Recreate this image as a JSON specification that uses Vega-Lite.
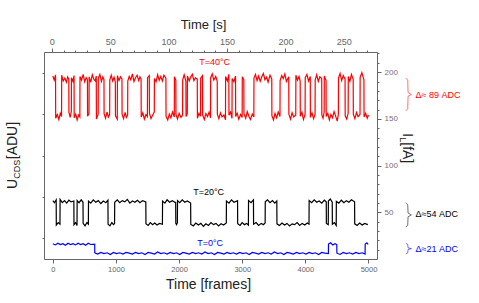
{
"$schema": "https://vega.github.io/schema/vega-lite/v6.json",
"width": 333, "height": 207,
"autosize": "none",
"padding": {"left": 44, "top": 52, "right": 102, "bottom": 44},
"background": "white",
"config": {"view": {"stroke": null}, "font": "Liberation Sans",
 "axis": {"grid": false, "domainColor": "#666", "tickColor": "#666", "labelColor": "#666", "labelFont": "Liberation Sans", "titleFont": "Liberation Sans", "titleFontWeight": "normal", "titleColor": "#222"}},
"datasets": {
"traces": [
{"T":"40","frame":0,"adu":442},{"T":"40","frame":22,"adu":432},{"T":"40","frame":43,"adu":445},
{"T":"40","frame":45,"adu":340},{"T":"40","frame":70,"adu":349},{"T":"40","frame":95,"adu":337},{"T":"40","frame":118,"adu":352},{"T":"40","frame":138,"adu":344},
{"T":"40","frame":140,"adu":444},{"T":"40","frame":165,"adu":430},{"T":"40","frame":190,"adu":437},{"T":"40","frame":215,"adu":427},{"T":"40","frame":235,"adu":440},{"T":"40","frame":253,"adu":434},
{"T":"40","frame":255,"adu":354},{"T":"40","frame":275,"adu":342},{"T":"40","frame":293,"adu":357},
{"T":"40","frame":295,"adu":438},{"T":"40","frame":318,"adu":429},{"T":"40","frame":336,"adu":443},
{"T":"40","frame":338,"adu":341},{"T":"40","frame":362,"adu":350},{"T":"40","frame":385,"adu":336},{"T":"40","frame":408,"adu":348},{"T":"40","frame":428,"adu":343},
{"T":"40","frame":430,"adu":441},{"T":"40","frame":455,"adu":432},{"T":"40","frame":480,"adu":446},{"T":"40","frame":505,"adu":428},{"T":"40","frame":528,"adu":438},{"T":"40","frame":548,"adu":433},
{"T":"40","frame":550,"adu":345},{"T":"40","frame":573,"adu":352},
{"T":"40","frame":575,"adu":440},{"T":"40","frame":600,"adu":427},{"T":"40","frame":625,"adu":445},{"T":"40","frame":650,"adu":434},{"T":"40","frame":670,"adu":430},{"T":"40","frame":688,"adu":442},
{"T":"40","frame":690,"adu":338},{"T":"40","frame":718,"adu":350},
{"T":"40","frame":720,"adu":437},{"T":"40","frame":745,"adu":446},{"T":"40","frame":770,"adu":429},{"T":"40","frame":792,"adu":440},{"T":"40","frame":810,"adu":433},
{"T":"40","frame":812,"adu":351},{"T":"40","frame":835,"adu":340},{"T":"40","frame":858,"adu":355},{"T":"40","frame":880,"adu":343},{"T":"40","frame":900,"adu":349},
{"T":"40","frame":902,"adu":432},{"T":"40","frame":925,"adu":444},{"T":"40","frame":948,"adu":430},{"T":"40","frame":970,"adu":439},{"T":"40","frame":990,"adu":428},
{"T":"40","frame":992,"adu":346},{"T":"40","frame":1021,"adu":338},
{"T":"40","frame":1023,"adu":443},{"T":"40","frame":1048,"adu":431},{"T":"40","frame":1072,"adu":440},{"T":"40","frame":1095,"adu":435},
{"T":"40","frame":1097,"adu":350},{"T":"40","frame":1120,"adu":339},{"T":"40","frame":1145,"adu":354},{"T":"40","frame":1165,"adu":342},{"T":"40","frame":1185,"adu":348},
{"T":"40","frame":1187,"adu":430},{"T":"40","frame":1210,"adu":441},{"T":"40","frame":1235,"adu":433},{"T":"40","frame":1260,"adu":447},{"T":"40","frame":1285,"adu":429},{"T":"40","frame":1310,"adu":438},{"T":"40","frame":1335,"adu":444},{"T":"40","frame":1360,"adu":431},{"T":"40","frame":1380,"adu":440},{"T":"40","frame":1398,"adu":434},
{"T":"40","frame":1400,"adu":343},{"T":"40","frame":1425,"adu":353},{"T":"40","frame":1450,"adu":338},{"T":"40","frame":1475,"adu":349},{"T":"40","frame":1498,"adu":344},
{"T":"40","frame":1500,"adu":438},{"T":"40","frame":1528,"adu":443},
{"T":"40","frame":1530,"adu":352},{"T":"40","frame":1555,"adu":339},{"T":"40","frame":1580,"adu":347},{"T":"40","frame":1607,"adu":355},
{"T":"40","frame":1609,"adu":436},{"T":"40","frame":1635,"adu":428},{"T":"40","frame":1660,"adu":445},{"T":"40","frame":1685,"adu":432},{"T":"40","frame":1710,"adu":441},{"T":"40","frame":1735,"adu":430},{"T":"40","frame":1760,"adu":444},{"T":"40","frame":1791,"adu":437},
{"T":"40","frame":1793,"adu":345},{"T":"40","frame":1820,"adu":336},{"T":"40","frame":1845,"adu":350},{"T":"40","frame":1870,"adu":341},{"T":"40","frame":1895,"adu":355},{"T":"40","frame":1924,"adu":343},
{"T":"40","frame":1926,"adu":440},{"T":"40","frame":1948,"adu":432},
{"T":"40","frame":1950,"adu":349},{"T":"40","frame":1975,"adu":338},{"T":"40","frame":2000,"adu":352},{"T":"40","frame":2030,"adu":342},{"T":"40","frame":2055,"adu":347},
{"T":"40","frame":2057,"adu":433},{"T":"40","frame":2080,"adu":445},{"T":"40","frame":2108,"adu":429},
{"T":"40","frame":2110,"adu":344},{"T":"40","frame":2130,"adu":351},
{"T":"40","frame":2132,"adu":442},{"T":"40","frame":2160,"adu":430},{"T":"40","frame":2185,"adu":440},{"T":"40","frame":2210,"adu":446},{"T":"40","frame":2235,"adu":431},{"T":"40","frame":2260,"adu":438},{"T":"40","frame":2288,"adu":434},
{"T":"40","frame":2290,"adu":340},{"T":"40","frame":2315,"adu":352},{"T":"40","frame":2340,"adu":345},
{"T":"40","frame":2342,"adu":437},{"T":"40","frame":2370,"adu":443},
{"T":"40","frame":2372,"adu":348},{"T":"40","frame":2400,"adu":337},{"T":"40","frame":2424,"adu":351},{"T":"40","frame":2450,"adu":344},{"T":"40","frame":2475,"adu":355},{"T":"40","frame":2498,"adu":341},
{"T":"40","frame":2500,"adu":438},{"T":"40","frame":2525,"adu":447},{"T":"40","frame":2550,"adu":432},{"T":"40","frame":2580,"adu":441},{"T":"40","frame":2604,"adu":430},
{"T":"40","frame":2606,"adu":350},{"T":"40","frame":2630,"adu":339},{"T":"40","frame":2655,"adu":353},{"T":"40","frame":2680,"adu":343},{"T":"40","frame":2710,"adu":348},{"T":"40","frame":2735,"adu":336},
{"T":"40","frame":2737,"adu":441},{"T":"40","frame":2765,"adu":430},{"T":"40","frame":2788,"adu":446},
{"T":"40","frame":2790,"adu":347},{"T":"40","frame":2815,"adu":355},{"T":"40","frame":2838,"adu":340},
{"T":"40","frame":2840,"adu":436},{"T":"40","frame":2868,"adu":428},{"T":"40","frame":2894,"adu":442},
{"T":"40","frame":2896,"adu":344},{"T":"40","frame":2920,"adu":352},{"T":"40","frame":2945,"adu":338},{"T":"40","frame":2975,"adu":349},{"T":"40","frame":2999,"adu":342},
{"T":"40","frame":3001,"adu":440},{"T":"40","frame":3025,"adu":433},
{"T":"40","frame":3027,"adu":351},{"T":"40","frame":3055,"adu":340},{"T":"40","frame":3080,"adu":356},{"T":"40","frame":3105,"adu":345},{"T":"40","frame":3130,"adu":337},{"T":"40","frame":3160,"adu":350},{"T":"40","frame":3184,"adu":343},
{"T":"40","frame":3186,"adu":437},{"T":"40","frame":3210,"adu":446},{"T":"40","frame":3235,"adu":431},{"T":"40","frame":3260,"adu":442},{"T":"40","frame":3285,"adu":429},{"T":"40","frame":3310,"adu":440},{"T":"40","frame":3335,"adu":448},{"T":"40","frame":3360,"adu":433},{"T":"40","frame":3385,"adu":439},{"T":"40","frame":3410,"adu":427},{"T":"40","frame":3440,"adu":444},{"T":"40","frame":3468,"adu":435},
{"T":"40","frame":3470,"adu":346},{"T":"40","frame":3495,"adu":336},{"T":"40","frame":3520,"adu":352},{"T":"40","frame":3545,"adu":341},{"T":"40","frame":3570,"adu":355},{"T":"40","frame":3598,"adu":344},
{"T":"40","frame":3600,"adu":431},{"T":"40","frame":3625,"adu":443},{"T":"40","frame":3650,"adu":436},{"T":"40","frame":3675,"adu":447},{"T":"40","frame":3700,"adu":429},{"T":"40","frame":3737,"adu":440},
{"T":"40","frame":3739,"adu":350},{"T":"40","frame":3765,"adu":338},{"T":"40","frame":3790,"adu":353},{"T":"40","frame":3815,"adu":343},{"T":"40","frame":3848,"adu":348},
{"T":"40","frame":3850,"adu":444},{"T":"40","frame":3875,"adu":432},{"T":"40","frame":3900,"adu":441},{"T":"40","frame":3918,"adu":430},
{"T":"40","frame":3920,"adu":345},{"T":"40","frame":3945,"adu":355},{"T":"40","frame":3970,"adu":337},{"T":"40","frame":3996,"adu":349},
{"T":"40","frame":3998,"adu":438},{"T":"40","frame":4025,"adu":446},{"T":"40","frame":4050,"adu":430},{"T":"40","frame":4078,"adu":441},
{"T":"40","frame":4080,"adu":342},{"T":"40","frame":4105,"adu":353},{"T":"40","frame":4130,"adu":339},{"T":"40","frame":4154,"adu":350},
{"T":"40","frame":4156,"adu":433},{"T":"40","frame":4180,"adu":445},{"T":"40","frame":4205,"adu":429},{"T":"40","frame":4230,"adu":440},{"T":"40","frame":4259,"adu":436},
{"T":"40","frame":4261,"adu":348},{"T":"40","frame":4280,"adu":340},{"T":"40","frame":4298,"adu":355},
{"T":"40","frame":4300,"adu":442},{"T":"40","frame":4328,"adu":431},
{"T":"40","frame":4330,"adu":344},{"T":"40","frame":4355,"adu":352},{"T":"40","frame":4380,"adu":336},{"T":"40","frame":4405,"adu":349},{"T":"40","frame":4430,"adu":341},{"T":"40","frame":4455,"adu":356},{"T":"40","frame":4480,"adu":345},{"T":"40","frame":4505,"adu":333},{"T":"40","frame":4523,"adu":350},
{"T":"40","frame":4525,"adu":437},{"T":"40","frame":4550,"adu":448},{"T":"40","frame":4575,"adu":431},{"T":"40","frame":4600,"adu":443},{"T":"40","frame":4629,"adu":435},
{"T":"40","frame":4631,"adu":346},{"T":"40","frame":4655,"adu":338},{"T":"40","frame":4678,"adu":352},
{"T":"40","frame":4680,"adu":441},{"T":"40","frame":4705,"adu":429},{"T":"40","frame":4730,"adu":446},{"T":"40","frame":4758,"adu":434},
{"T":"40","frame":4760,"adu":350},{"T":"40","frame":4785,"adu":339},{"T":"40","frame":4810,"adu":354},{"T":"40","frame":4835,"adu":344},{"T":"40","frame":4866,"adu":349},
{"T":"40","frame":4868,"adu":439},{"T":"40","frame":4895,"adu":450},{"T":"40","frame":4928,"adu":433},
{"T":"40","frame":4930,"adu":343},{"T":"40","frame":4955,"adu":352},{"T":"40","frame":4980,"adu":340},{"T":"40","frame":5000,"adu":348},

{"T":"20","frame":0,"adu":141},{"T":"20","frame":25,"adu":136},{"T":"20","frame":53,"adu":143},
{"T":"20","frame":55,"adu":82},{"T":"20","frame":85,"adu":88},{"T":"20","frame":113,"adu":84},
{"T":"20","frame":115,"adu":144},{"T":"20","frame":150,"adu":136},{"T":"20","frame":185,"adu":141},{"T":"20","frame":220,"adu":135},{"T":"20","frame":255,"adu":142},{"T":"20","frame":290,"adu":138},{"T":"20","frame":333,"adu":140},
{"T":"20","frame":335,"adu":83},{"T":"20","frame":360,"adu":88},{"T":"20","frame":383,"adu":81},
{"T":"20","frame":385,"adu":141},{"T":"20","frame":415,"adu":136},{"T":"20","frame":450,"adu":143},{"T":"20","frame":478,"adu":137},
{"T":"20","frame":480,"adu":86},{"T":"20","frame":510,"adu":80},{"T":"20","frame":540,"adu":88},{"T":"20","frame":563,"adu":84},
{"T":"20","frame":565,"adu":140},{"T":"20","frame":600,"adu":135},{"T":"20","frame":640,"adu":143},{"T":"20","frame":680,"adu":137},{"T":"20","frame":720,"adu":141},{"T":"20","frame":760,"adu":134},{"T":"20","frame":800,"adu":140},{"T":"20","frame":840,"adu":136},{"T":"20","frame":873,"adu":142},
{"T":"20","frame":875,"adu":84},{"T":"20","frame":905,"adu":80},{"T":"20","frame":935,"adu":88},{"T":"20","frame":960,"adu":83},{"T":"20","frame":978,"adu":86},
{"T":"20","frame":980,"adu":137},{"T":"20","frame":1020,"adu":143},{"T":"20","frame":1060,"adu":136},{"T":"20","frame":1100,"adu":141},{"T":"20","frame":1140,"adu":138},{"T":"20","frame":1180,"adu":144},{"T":"20","frame":1220,"adu":135},{"T":"20","frame":1260,"adu":140},{"T":"20","frame":1300,"adu":137},{"T":"20","frame":1340,"adu":142},{"T":"20","frame":1380,"adu":136},{"T":"20","frame":1420,"adu":141},{"T":"20","frame":1473,"adu":138},
{"T":"20","frame":1475,"adu":85},{"T":"20","frame":1510,"adu":81},{"T":"20","frame":1545,"adu":88},{"T":"20","frame":1580,"adu":83},{"T":"20","frame":1615,"adu":87},{"T":"20","frame":1650,"adu":82},{"T":"20","frame":1690,"adu":86},{"T":"20","frame":1736,"adu":84},
{"T":"20","frame":1738,"adu":140},{"T":"20","frame":1775,"adu":135},{"T":"20","frame":1810,"adu":143},{"T":"20","frame":1850,"adu":137},{"T":"20","frame":1890,"adu":141},{"T":"20","frame":1946,"adu":136},
{"T":"20","frame":1948,"adu":86},{"T":"20","frame":1960,"adu":83},{"T":"20","frame":1973,"adu":87},
{"T":"20","frame":1975,"adu":141},{"T":"20","frame":2010,"adu":136},{"T":"20","frame":2050,"adu":143},{"T":"20","frame":2090,"adu":137},{"T":"20","frame":2130,"adu":140},{"T":"20","frame":2183,"adu":135},
{"T":"20","frame":2185,"adu":84},{"T":"20","frame":2225,"adu":80},{"T":"20","frame":2265,"adu":87},{"T":"20","frame":2305,"adu":82},{"T":"20","frame":2345,"adu":86},{"T":"20","frame":2385,"adu":79},{"T":"20","frame":2425,"adu":85},{"T":"20","frame":2465,"adu":81},{"T":"20","frame":2505,"adu":88},{"T":"20","frame":2545,"adu":83},{"T":"20","frame":2585,"adu":86},{"T":"20","frame":2625,"adu":80},{"T":"20","frame":2665,"adu":85},{"T":"20","frame":2705,"adu":82},{"T":"20","frame":2748,"adu":87},
{"T":"20","frame":2750,"adu":140},{"T":"20","frame":2790,"adu":135},{"T":"20","frame":2830,"adu":143},{"T":"20","frame":2870,"adu":137},{"T":"20","frame":2926,"adu":141},
{"T":"20","frame":2928,"adu":85},{"T":"20","frame":2965,"adu":81},{"T":"20","frame":3000,"adu":88},{"T":"20","frame":3035,"adu":83},{"T":"20","frame":3070,"adu":86},{"T":"20","frame":3098,"adu":82},
{"T":"20","frame":3100,"adu":141},{"T":"20","frame":3140,"adu":136},{"T":"20","frame":3178,"adu":143},
{"T":"20","frame":3180,"adu":84},{"T":"20","frame":3220,"adu":88},{"T":"20","frame":3260,"adu":81},{"T":"20","frame":3300,"adu":86},{"T":"20","frame":3335,"adu":83},{"T":"20","frame":3363,"adu":87},
{"T":"20","frame":3365,"adu":138},{"T":"20","frame":3400,"adu":143},{"T":"20","frame":3440,"adu":136},{"T":"20","frame":3480,"adu":141},{"T":"20","frame":3515,"adu":135},{"T":"20","frame":3548,"adu":140},
{"T":"20","frame":3550,"adu":85},{"T":"20","frame":3590,"adu":81},{"T":"20","frame":3630,"adu":87},{"T":"20","frame":3670,"adu":82},{"T":"20","frame":3710,"adu":86},{"T":"20","frame":3750,"adu":80},{"T":"20","frame":3790,"adu":85},{"T":"20","frame":3830,"adu":83},{"T":"20","frame":3870,"adu":88},{"T":"20","frame":3910,"adu":81},{"T":"20","frame":3950,"adu":86},{"T":"20","frame":3990,"adu":82},{"T":"20","frame":4030,"adu":87},{"T":"20","frame":4058,"adu":84},
{"T":"20","frame":4060,"adu":141},{"T":"20","frame":4100,"adu":136},{"T":"20","frame":4140,"adu":143},{"T":"20","frame":4180,"adu":137},{"T":"20","frame":4220,"adu":140},{"T":"20","frame":4260,"adu":135},{"T":"20","frame":4300,"adu":142},{"T":"20","frame":4331,"adu":138},
{"T":"20","frame":4333,"adu":86},{"T":"20","frame":4363,"adu":83},
{"T":"20","frame":4365,"adu":140},{"T":"20","frame":4395,"adu":145},{"T":"20","frame":4426,"adu":137},
{"T":"20","frame":4428,"adu":84},{"T":"20","frame":4460,"adu":88},{"T":"20","frame":4489,"adu":81},
{"T":"20","frame":4491,"adu":139},{"T":"20","frame":4530,"adu":135},{"T":"20","frame":4570,"adu":142},{"T":"20","frame":4610,"adu":136},{"T":"20","frame":4650,"adu":141},{"T":"20","frame":4690,"adu":137},{"T":"20","frame":4730,"adu":143},{"T":"20","frame":4780,"adu":138},
{"T":"20","frame":4782,"adu":85},{"T":"20","frame":4820,"adu":81},{"T":"20","frame":4860,"adu":87},{"T":"20","frame":4900,"adu":82},{"T":"20","frame":4940,"adu":86},{"T":"20","frame":4990,"adu":83},

{"T":"0","frame":0,"adu":37},{"T":"0","frame":40,"adu":34},{"T":"0","frame":80,"adu":38},{"T":"0","frame":120,"adu":35},{"T":"0","frame":160,"adu":37},{"T":"0","frame":200,"adu":33},{"T":"0","frame":240,"adu":38},{"T":"0","frame":280,"adu":35},{"T":"0","frame":320,"adu":37},{"T":"0","frame":360,"adu":34},{"T":"0","frame":400,"adu":38},{"T":"0","frame":440,"adu":35},{"T":"0","frame":480,"adu":37},{"T":"0","frame":520,"adu":33},{"T":"0","frame":560,"adu":38},{"T":"0","frame":600,"adu":35},{"T":"0","frame":663,"adu":36},
{"T":"0","frame":665,"adu":15},{"T":"0","frame":710,"adu":12},{"T":"0","frame":760,"adu":16},{"T":"0","frame":810,"adu":13},{"T":"0","frame":860,"adu":15},{"T":"0","frame":910,"adu":11},{"T":"0","frame":960,"adu":16},{"T":"0","frame":1010,"adu":13},{"T":"0","frame":1060,"adu":15},{"T":"0","frame":1110,"adu":12},{"T":"0","frame":1160,"adu":16},{"T":"0","frame":1210,"adu":14},{"T":"0","frame":1260,"adu":12},{"T":"0","frame":1310,"adu":16},{"T":"0","frame":1360,"adu":13},{"T":"0","frame":1410,"adu":15},{"T":"0","frame":1460,"adu":11},{"T":"0","frame":1510,"adu":16},{"T":"0","frame":1560,"adu":14},{"T":"0","frame":1610,"adu":12},{"T":"0","frame":1660,"adu":17},{"T":"0","frame":1710,"adu":13},{"T":"0","frame":1760,"adu":15},{"T":"0","frame":1810,"adu":12},{"T":"0","frame":1860,"adu":16},{"T":"0","frame":1910,"adu":13},{"T":"0","frame":1960,"adu":15},{"T":"0","frame":2010,"adu":11},{"T":"0","frame":2060,"adu":16},{"T":"0","frame":2110,"adu":14},{"T":"0","frame":2160,"adu":12},{"T":"0","frame":2210,"adu":16},{"T":"0","frame":2260,"adu":13},{"T":"0","frame":2310,"adu":15},{"T":"0","frame":2360,"adu":12},{"T":"0","frame":2410,"adu":17},{"T":"0","frame":2460,"adu":13},{"T":"0","frame":2510,"adu":15},{"T":"0","frame":2560,"adu":11},{"T":"0","frame":2610,"adu":16},{"T":"0","frame":2660,"adu":14},{"T":"0","frame":2710,"adu":12},{"T":"0","frame":2760,"adu":16},{"T":"0","frame":2810,"adu":13},{"T":"0","frame":2860,"adu":15},{"T":"0","frame":2910,"adu":12},{"T":"0","frame":2960,"adu":16},{"T":"0","frame":3010,"adu":13},{"T":"0","frame":3060,"adu":15},{"T":"0","frame":3110,"adu":11},{"T":"0","frame":3160,"adu":16},{"T":"0","frame":3210,"adu":14},{"T":"0","frame":3260,"adu":12},{"T":"0","frame":3310,"adu":16},{"T":"0","frame":3360,"adu":13},{"T":"0","frame":3410,"adu":15},{"T":"0","frame":3460,"adu":12},{"T":"0","frame":3510,"adu":17},{"T":"0","frame":3560,"adu":13},{"T":"0","frame":3610,"adu":15},{"T":"0","frame":3660,"adu":11},{"T":"0","frame":3710,"adu":16},{"T":"0","frame":3760,"adu":14},{"T":"0","frame":3810,"adu":12},{"T":"0","frame":3860,"adu":16},{"T":"0","frame":3910,"adu":13},{"T":"0","frame":3960,"adu":15},{"T":"0","frame":4010,"adu":12},{"T":"0","frame":4060,"adu":16},{"T":"0","frame":4110,"adu":13},{"T":"0","frame":4160,"adu":15},{"T":"0","frame":4210,"adu":11},{"T":"0","frame":4260,"adu":16},{"T":"0","frame":4310,"adu":14},{"T":"0","frame":4365,"adu":13},
{"T":"0","frame":4367,"adu":36},{"T":"0","frame":4400,"adu":39},{"T":"0","frame":4435,"adu":34},{"T":"0","frame":4470,"adu":37},{"T":"0","frame":4498,"adu":35},
{"T":"0","frame":4500,"adu":14},{"T":"0","frame":4550,"adu":11},{"T":"0","frame":4600,"adu":16},{"T":"0","frame":4650,"adu":13},{"T":"0","frame":4700,"adu":15},{"T":"0","frame":4750,"adu":12},{"T":"0","frame":4800,"adu":16},{"T":"0","frame":4850,"adu":13},{"T":"0","frame":4900,"adu":15},{"T":"0","frame":4946,"adu":12},
{"T":"0","frame":4948,"adu":36},{"T":"0","frame":4975,"adu":39},{"T":"0","frame":4995,"adu":35}
],
"labels": [
{"T":"40","frame":2563,"adu":476,"text":"T=40°C"},
{"T":"20","frame":2468,"adu":163,"text":"T=20°C"},
{"T":"0","frame":2492,"adu":38,"text":"T=0°C"}
],
"deltas": [
{"T":"40","frame":5745,"adu":396,"text":"Δ≈ 89 ADC"},
{"T":"20","frame":5745,"adu":108,"text":"Δ≈54 ADC"},
{"T":"0","frame":5745,"adu":24,"text":"Δ≈21 ADC"}
],
"braces": [
{"T":"40","i":1,"frame":5592,"adu":437},{"T":"40","i":2,"frame":5622,"adu":432},{"T":"40","i":3,"frame":5627,"adu":402},{"T":"40","i":4,"frame":5680,"adu":397.5},{"T":"40","i":5,"frame":5627,"adu":393},{"T":"40","i":6,"frame":5622,"adu":363},{"T":"40","i":7,"frame":5592,"adu":358},
{"T":"20","i":1,"frame":5592,"adu":136},{"T":"20","i":2,"frame":5622,"adu":131},{"T":"20","i":3,"frame":5627,"adu":111},{"T":"20","i":4,"frame":5680,"adu":106.5},{"T":"20","i":5,"frame":5627,"adu":102},{"T":"20","i":6,"frame":5622,"adu":82},{"T":"20","i":7,"frame":5592,"adu":77},
{"T":"0","i":1,"frame":5592,"adu":38},{"T":"0","i":2,"frame":5622,"adu":35},{"T":"0","i":3,"frame":5627,"adu":27},{"T":"0","i":4,"frame":5680,"adu":25},{"T":"0","i":5,"frame":5627,"adu":23},{"T":"0","i":6,"frame":5622,"adu":15},{"T":"0","i":7,"frame":5592,"adu":12}
],
"ytitle": [
{"part":"main","frame":-560,"adu":169,"text":"U"},
{"part":"sub","frame":-515,"adu":194,"text":"CDS"},
{"part":"main","frame":-560,"adu":241,"text":"[ADU]"}
],
"rtitle": [
{"part":"main","frame":5540,"adu":304,"text":"I"},
{"part":"sub","frame":5495,"adu":294,"text":"L"},
{"part":"main","frame":5540,"adu":282,"text":"[fA]"}
]
},
"resolve": {"scale": {"x": "independent", "y": "independent"}},
"layer": [
{
 "layer": [
  {"data": {"name": "traces"}, "mark": {"type": "line", "strokeWidth": 1.2},
   "encoding": {
    "x": {"field": "frame", "type": "quantitative", "scale": {"domain": [-140, 5135], "nice": false, "zero": false},
      "axis": {"orient": "bottom", "title": "Time [frames]", "values": [0,500,1000,1500,2000,2500,3000,3500,4000,4500,5000],
        "labelExpr": "datum.value % 1000 === 0 ? datum.label : ''", "format": "d",
        "tickSize": {"condition": {"test": "datum.value % 1000 === 0", "value": 4}, "value": 2},
        "labelFontSize": 7.5, "labelPadding": 2, "titleFontSize": 14, "titlePadding": 5, "titleX": 164}},
    "y": {"field": "adu", "type": "quantitative", "scale": {"domain": [0, 500], "nice": false},
      "axis": {"orient": "left", "title": null, "values": [50,100,150,200,250,300,350,400,450,500],
        "labelExpr": "datum.value % 100 === 0 ? datum.label : ''",
        "tickSize": {"condition": {"test": "datum.value % 100 === 0", "value": 4}, "value": 2},
        "labelFontSize": 8, "labelColor": "#777", "labelPadding": 2}},
    "color": {"field": "T", "type": "nominal", "scale": {"domain": ["40","20","0"], "range": ["#ff0000","#000000","#0000ff"]}, "legend": null},
    "detail": {"field": "T"}
   }},
  {"data": {"name": "braces"}, "mark": {"type": "line", "strokeWidth": 0.8, "opacity": 0.7},
   "encoding": {"x": {"field": "frame", "type": "quantitative"}, "y": {"field": "adu", "type": "quantitative"},
     "color": {"field": "T", "type": "nominal"}, "detail": {"field": "T"}, "order": {"field": "i"}}},
  {"data": {"name": "labels"}, "mark": {"type": "text", "fontSize": 9, "font": "Liberation Sans"},
   "encoding": {"x": {"field": "frame", "type": "quantitative"}, "y": {"field": "adu", "type": "quantitative"},
     "text": {"field": "text"}, "color": {"field": "T", "type": "nominal"}}},
  {"data": {"name": "deltas"}, "mark": {"type": "text", "fontSize": 9, "align": "left", "font": "Liberation Sans"},
   "encoding": {"x": {"field": "frame", "type": "quantitative"}, "y": {"field": "adu", "type": "quantitative"},
     "text": {"field": "text"}, "color": {"field": "T", "type": "nominal"}}},
  {"data": {"name": "ytitle"}, "transform": [{"filter": "datum.part === 'main'"}],
   "mark": {"type": "text", "fontSize": 14, "angle": 270, "align": "left", "baseline": "alphabetic", "color": "#222", "font": "Liberation Sans"},
   "encoding": {"x": {"field": "frame", "type": "quantitative"}, "y": {"field": "adu", "type": "quantitative"}, "text": {"field": "text"}}},
  {"data": {"name": "ytitle"}, "transform": [{"filter": "datum.part === 'sub'"}],
   "mark": {"type": "text", "fontSize": 9, "angle": 270, "align": "left", "baseline": "alphabetic", "color": "#222", "font": "Liberation Sans"},
   "encoding": {"x": {"field": "frame", "type": "quantitative"}, "y": {"field": "adu", "type": "quantitative"}, "text": {"field": "text"}}},
  {"data": {"name": "rtitle"}, "transform": [{"filter": "datum.part === 'main'"}],
   "mark": {"type": "text", "fontSize": 14, "angle": 90, "align": "left", "baseline": "alphabetic", "color": "#222", "font": "Liberation Sans"},
   "encoding": {"x": {"field": "frame", "type": "quantitative"}, "y": {"field": "adu", "type": "quantitative"}, "text": {"field": "text"}}},
  {"data": {"name": "rtitle"}, "transform": [{"filter": "datum.part === 'sub'"}],
   "mark": {"type": "text", "fontSize": 9, "angle": 90, "align": "left", "baseline": "alphabetic", "color": "#222", "font": "Liberation Sans"},
   "encoding": {"x": {"field": "frame", "type": "quantitative"}, "y": {"field": "adu", "type": "quantitative"}, "text": {"field": "text"}}}
 ]
},
{
 "data": {"values": [{"sec": 0}]},
 "mark": {"type": "rule", "opacity": 0},
 "encoding": {"x": {"field": "sec", "type": "quantitative", "scale": {"domain": [-6.7, 278.4], "nice": false, "zero": false},
   "axis": {"orient": "top", "title": "Time [s]", "values": [0,10,20,30,40,50,60,70,80,90,100,110,120,130,140,150,160,170,180,190,200,210,220,230,240,250,260,270],
     "labelExpr": "datum.value % 50 === 0 ? datum.label : ''",
     "tickSize": {"condition": {"test": "datum.value % 50 === 0", "value": 4}, "value": 2},
     "labelFontSize": 9, "labelPadding": 2, "titleFontSize": 13, "titlePadding": 6, "titleX": 159}}}
},
{
 "data": {"values": [{"fA": 0}]},
 "mark": {"type": "rule", "opacity": 0},
 "encoding": {"y": {"field": "fA", "type": "quantitative", "scale": {"domain": [0, 221.6], "nice": false},
   "axis": {"orient": "right", "title": null, "values": [10,20,30,40,50,60,70,80,90,100,110,120,130,140,150,160,170,180,190,200,210,220],
     "labelExpr": "datum.value % 50 === 0 ? datum.label : ''",
     "tickSize": {"condition": {"test": "datum.value % 50 === 0", "value": 4}, "value": 2},
     "labelFontSize": 8, "labelColor": "#806a80", "labelPadding": 3}}}
}
]
}
